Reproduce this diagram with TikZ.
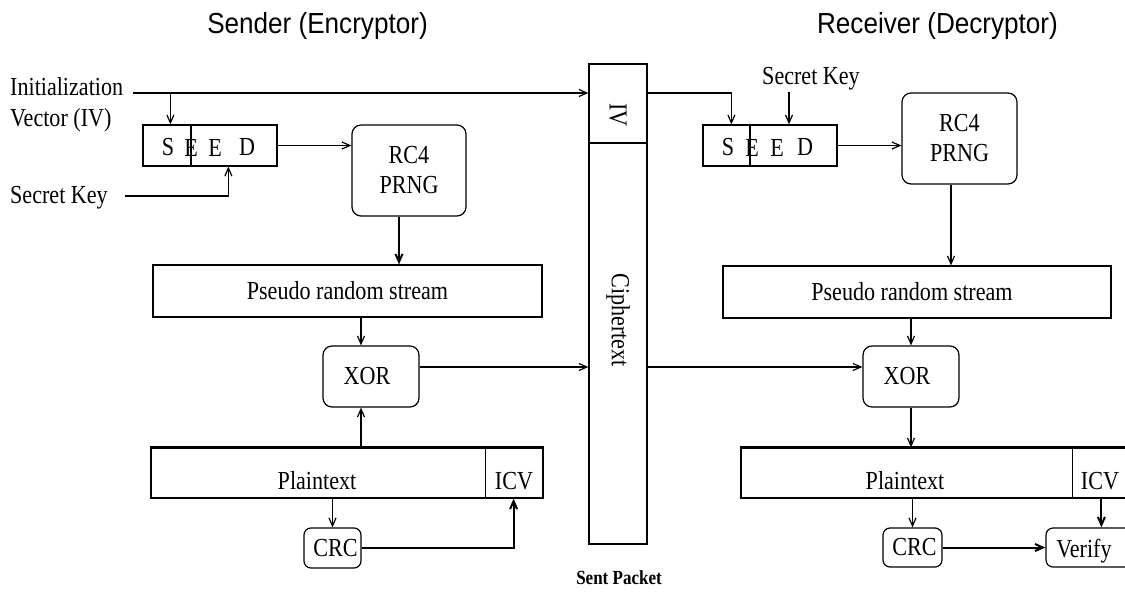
\documentclass[tikz,border=0pt]{standalone}
\usepackage{fontspec}
\setmainfont{Liberation Serif}[FakeStretch=0.85]
\newfontfamily\titlefont{Liberation Sans}[FakeStretch=0.9]
\usetikzlibrary{arrows.meta,calc}

\begin{document}
\begin{tikzpicture}[x=1pt,y=-1pt,
  lbl/.style={font=\fontsize{26}{30}\selectfont, inner sep=0},
  box/.style={draw, line width=1.2pt, inner sep=0},
  rbox/.style={box, rounded corners=9pt, font=\fontsize{26}{30}\selectfont, align=center},
  wire/.style={line width=1.2pt},
  heavy/.style={line width=2pt},
  arr/.style={wire, -{Straight Barb[length=8pt,width=7pt]}},
  title/.style={font=\titlefont\fontsize{29}{32}\selectfont, inner sep=0},
]
\useasboundingbox (0,0) rectangle (1125,603);
\clip (0,0) rectangle (1125,603);

% ---------- headings ----------
\node[title] (stitle) at (317.5,26) {Sender (Encryptor)};
\node[title] (rtitle) at (937.5,26) {Receiver (Decryptor)};

% ---------- transmitted packet ----------
\node[box, minimum width=58, minimum height=79] (pktiv) at (618,103.5) {};
\node[box, minimum width=58, minimum height=401] (pktct) at (618,343.5) {};
\node[lbl, rotate=-90] (ivtxt) at (618,115) {IV};
\node[lbl, rotate=-90] (cttxt) at (618,320) {Ciphertext};
\node[inner sep=0, font=\bfseries\fontsize{20}{22}\selectfont] (sent) at (619,578) {Sent Packet};

% ---------- sender ----------
\node[lbl, anchor=base west] (ivl1) at (10,95) {Initialization};
\node[lbl, anchor=base west] (ivl2) at (10,126) {Vector (IV)};
\node[lbl, anchor=base west] (skeyL) at (10,203) {Secret Key};
\coordinate (ivstart) at (133,93);
\coordinate (skeyLend) at (125,196);

\node[box, minimum width=134, minimum height=41] (sseed) at (210,145.5) {};
\node[lbl] (ss1) at (168,147.5) {S};
\node[lbl] (ss2) at (191,147.5) {E};
\node[lbl] (ss3) at (215,147.5) {E};
\node[lbl] (ss4) at (247,147.5) {D};
\draw[heavy] ($(sseed.north west)+(49,0)$) -- ($(sseed.south west)+(49,0)$);

\node[rbox, minimum width=114, minimum height=91] (src4) at (409,170.5) {RC4\\PRNG};
\node[box, lbl, draw, line width=1.2pt, minimum width=389, minimum height=52] (sprs) at (347.5,291) {Pseudo random stream};
\node[rbox, minimum width=96, minimum height=61] (sxor) at (371,376.5) {\hspace*{-8pt}XOR};

\node[box, minimum width=392, minimum height=50] (splain) at (347,473) {};
\draw[heavy] (splain.north west) -- (splain.north east);
\draw[wire] ($(splain.north west)+(335,0)$) -- ($(splain.south west)+(335,0)$);
\node[lbl] (sptxt) at (317,481) {Plaintext};
\node[lbl] (sicvtxt) at (514,481) {ICV};
\node[rbox, rounded corners=7pt, minimum width=57, minimum height=40] (scrc) at (332.5,548) {\hspace*{6pt}CRC};

% sender connections
\coordinate (sseedin) at ($(sseed.north west)+(28,0)$);
\coordinate (sseedkey) at ($(sseed.south west)+(86,0)$);
\coordinate (srcout) at ($(src4.south)+(-10,0)$);
\coordinate (sxin) at ($(sxor.north)+(-10,0)$);
\coordinate (sxbot) at ($(sxor.south)+(-10,0)$);
\coordinate (sxout) at ($(sxor.east)+(0,-9.5)$);
\coordinate (sicvin) at ($(splain.south east)+(-30,0)$);

\draw[arr] (ivstart) -- (ivstart -| pktiv.west);
\draw[arr] (sseedin |- ivstart) -- (sseedin);
\draw[arr] (skeyLend) -| (sseedkey);
\draw[arr] (sseed.east) -- (sseed.east -| src4.west);
\draw[arr, heavy] (srcout) -- (srcout |- sprs.north);
\draw[arr] (sxin |- sprs.south) -- (sxin);
\draw[arr] (sxout) -- (sxout -| pktct.west);
\draw[arr] (sxbot |- splain.north) -- (sxbot);
\draw[arr] (scrc.north |- splain.south) -- (scrc.north);
\draw[arr, heavy] (scrc.east) -| (sicvin);

% ---------- receiver ----------
\node[lbl, anchor=base] (skeyR) at (811,84) {Secret Key};
\coordinate (rkeytop) at (789,92);

\node[box, minimum width=134, minimum height=41] (rseed) at (770,145.5) {};
\node[lbl] (rs1) at (728,147.5) {S};
\node[lbl] (rs2) at (752,147.5) {E};
\node[lbl] (rs3) at (777,147.5) {E};
\node[lbl] (rs4) at (805,147.5) {D};
\draw[heavy] ($(rseed.north west)+(48,0)$) -- ($(rseed.south west)+(48,0)$);

\node[rbox, minimum width=115, minimum height=91] (rrc4) at (959.5,138.5) {RC4\\PRNG};
\node[box, lbl, draw, line width=1.2pt, minimum width=388, minimum height=52] (rprs) at (917,292) {\hspace*{-10pt}Pseudo random stream};
\node[rbox, minimum width=96, minimum height=61] (rxor) at (911,376.5) {\hspace*{-8pt}XOR};

\node[box, minimum width=424, minimum height=50] (rplain) at (953,473) {};
\draw[heavy] (rplain.north west) -- (rplain.north east);
\draw[wire] ($(rplain.north west)+(332,0)$) -- ($(rplain.south west)+(332,0)$);
\node[lbl] (rptxt) at (905,481) {Plaintext};
\node[lbl] (ricvtxt) at (1100,481) {ICV};
\node[rbox, rounded corners=7pt, minimum width=59, minimum height=39] (rcrc) at (912.5,547.5) {\hspace*{4pt}CRC};
\node[rbox, rounded corners=7pt, minimum width=94, minimum height=39] (rver) at (1093,547.5) {};
\node[lbl] (rvertxt) at (1084,551) {Verify};

% receiver connections
\coordinate (rseedin) at ($(rseed.north west)+(29,0)$);
\coordinate (rrcout) at ($(rrc4.south)+(-8.5,0)$);
\coordinate (rverin) at ($(rver.north west)+(56,0)$);

\draw[arr] (pktiv.east |- ivstart) -| (rseedin);
\draw[arr] (rkeytop) -- (rkeytop |- rseed.north);
\draw[arr] (rseed.east) -- (rseed.east -| rrc4.west);
\draw[arr] (rrcout) -- (rrcout |- rprs.north);
\draw[arr] (rxor.north |- rprs.south) -- (rxor.north);
\draw[arr] (pktct.east |- sxout) -- (rxor.west |- sxout);
\draw[arr] (rxor.south) -- (rxor.south |- rplain.north);
\draw[arr] (rcrc.north |- rplain.south) -- (rcrc.north);
\draw[arr, heavy] (rcrc.east) -- (rver.west);
\draw[arr, heavy] (rverin |- rplain.south) -- (rverin);
\end{tikzpicture}
\end{document}
